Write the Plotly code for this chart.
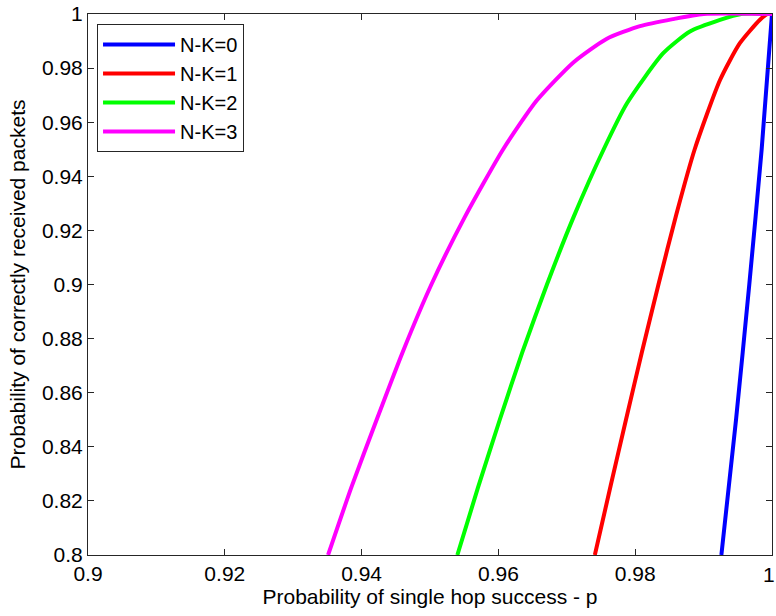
import plotly.graph_objects as go

# N-K=0
x0 = [0.9926, 0.99474, 0.99668, 0.99849, 1.0]
y0 = [0.800, 0.850, 0.900, 0.950, 1.0]
# N-K=1
x1 = [0.9741, 0.9764, 0.97865, 0.9810, 0.9834, 0.9860, 0.9887, 0.9924, 0.9953, 0.9982, 0.9993, 1.0]
y1 = [0.800, 0.8255, 0.850, 0.8752, 0.900, 0.9258, 0.950, 0.9756, 0.9892, 0.9978, 1.0, 1.0]
# N-K=2
x2 = [0.9540, 0.9570, 0.9602, 0.9635, 0.9671, 0.9710, 0.9754, 0.9788, 0.9841, 0.9880, 0.9924, 0.9955, 1.0]
y2 = [0.800, 0.8248, 0.850, 0.8750, 0.900, 0.9250, 0.950, 0.9670, 0.9855, 0.9935, 0.9978, 1.0, 1.0]
# N-K=3
x3 = [0.9351, 0.9385, 0.9422, 0.9460, 0.9502, 0.9551, 0.9607, 0.9656, 0.9710, 0.9758, 0.9807, 0.9855, 0.9900, 1.0]
y3 = [0.800, 0.8250, 0.850, 0.8750, 0.900, 0.9250, 0.950, 0.9680, 0.9822, 0.9908, 0.9955, 0.9981, 1.0, 1.0]

names = ["N-K=0", "N-K=1", "N-K=2", "N-K=3"]
colors = ["#0000ff", "#ff0000", "#00ff00", "#ff00ff"]
xs = [x0, x1, x2, x3]
ys = [y0, y1, y2, y3]

xticks = [0.9, 0.92, 0.94, 0.96, 0.98, 1.0]
xticklabels = ["0.9", "0.92", "0.94", "0.96", "0.98", "1"]
yticks = [0.8, 0.82, 0.84, 0.86, 0.88, 0.9, 0.92, 0.94, 0.96, 0.98, 1.0]
yticklabels = ["0.8", "0.82", "0.84", "0.86", "0.88", "0.9", "0.92", "0.94", "0.96", "0.98", "1"]

fig = go.Figure()
for x, y, n, c in zip(xs, ys, names, colors):
    fig.add_trace(go.Scatter(x=x, y=y, mode="lines", name=n,
                             line=dict(color=c, width=4, shape="spline", smoothing=0.6)))

font = dict(family="Liberation Sans, Arial, sans-serif", size=21, color="black")
legfont = dict(family="Liberation Sans, Arial, sans-serif", size=20, color="black")
axis_common = dict(showline=True, linecolor="#262626", linewidth=1, mirror="ticks",
                   ticks="inside", ticklen=6, tickcolor="#262626", showgrid=False,
                   zeroline=False, tickfont=font, automargin=False)

# last x tick label drawn as an annotation nudged inside the page edge
xtick_text_axis = xticklabels[:-1] + [""]

fig.update_layout(
    width=776, height=616,
    margin=dict(l=88, r=4, t=14, b=61),
    paper_bgcolor="white", plot_bgcolor="white",
    font=font,
    showlegend=True,
    legend=dict(x=0.0132, y=0.9815, xanchor="left", yanchor="top",
                bordercolor="#262626", borderwidth=1, bgcolor="white",
                font=legfont, itemwidth=72, tracegroupgap=0),
    xaxis=dict(range=[0.9, 1.0], tickvals=xticks, ticktext=xtick_text_axis,
               title=dict(text="Probability of single hop success - p", font=font, standoff=5),
               **axis_common),
    yaxis=dict(range=[0.8, 1.0], tickvals=yticks, ticktext=yticklabels,
               title=dict(text="Probability of correctly received packets", font=font, standoff=10),
               **axis_common),
)
fig.add_annotation(x=xticks[-1], xref="x", y=0, yref="paper", text=xticklabels[-1],
                   showarrow=False, xanchor="center", yanchor="top",
                   xshift=-3, yshift=-6, font=font)
fig.write_html("out.html")
